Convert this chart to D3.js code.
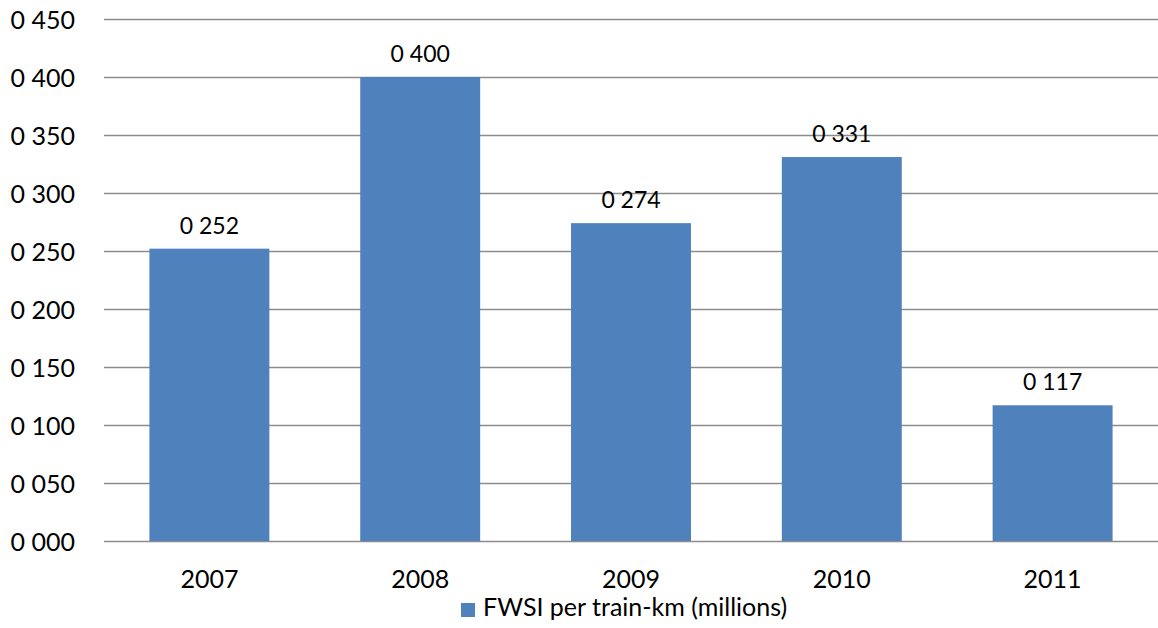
<!DOCTYPE html>
<html>
<head>
<meta charset="utf-8">
<script src="https://cdn.jsdelivr.net/npm/d3@7/dist/d3.min.js"></script>
<style>
  html, body { margin: 0; padding: 0; background: #fff; }
  svg { display: block; font-family: Lato, "Open Sans", sans-serif; }
</style>
</head>
<body>
<svg id="chart" width="1158" height="628"></svg>
<script>
// FWSI per train-km (millions), by year
const years = ["2007", "2008", "2009", "2010", "2011"];
const fwsi = [0.252, 0.400, 0.274, 0.331, 0.117];
const yTicks = [0, 0.05, 0.10, 0.15, 0.20, 0.25, 0.30, 0.35, 0.40, 0.45];
const seriesName = "FWSI per train-km (millions)";

const W = 1158, H = 628;
const margin = { top: 19, right: 0, bottom: 87, left: 104 };
const svg = d3.select("#chart");

// numbers shown with a space as the decimal separator, e.g. "0 252"
const fmt = v => d3.format(".3f")(v).replace(".", " ");

const x = d3.scaleBand()
  .domain(years)
  .range([margin.left, W - margin.right])
  .paddingInner(0.431)
  .paddingOuter(0.2155);

const y = d3.scaleLinear()
  .domain([0, 0.45])
  .range([H - margin.bottom, margin.top]);

// horizontal gridlines
svg.append("g")
  .selectAll("line")
  .data(yTicks)
  .join("line")
  .attr("x1", margin.left)
  .attr("x2", W - margin.right)
  .attr("y1", d => Math.round(y(d)) + 0.5)
  .attr("y2", d => Math.round(y(d)) + 0.5)
  .attr("stroke", "#8c8c8c")
  .attr("stroke-width", 1.3);

// y-axis labels
const yAxis = d3.axisLeft(y).tickValues(yTicks).tickFormat(fmt).tickSize(0).tickPadding(0);
const gy = svg.append("g").attr("transform", "translate(75,0)").call(yAxis);
gy.select(".domain").remove();
gy.selectAll("text")
  .attr("font-size", 25)
  .attr("font-family", "Lato, sans-serif")
  .attr("fill", "#000")
  .attr("dy", "0.36em");

// bars
svg.append("g")
  .selectAll("rect")
  .data(years.map((yr, i) => ({ yr, v: fwsi[i] })))
  .join("rect")
  .attr("x", d => x(d.yr))
  .attr("width", x.bandwidth())
  .attr("y", d => y(d.v))
  .attr("height", d => y(0) - y(d.v))
  .attr("fill", "#4f81bd");

// value labels above bars
svg.append("g")
  .selectAll("text")
  .data(years.map((yr, i) => ({ yr, v: fwsi[i] })))
  .join("text")
  .attr("x", d => x(d.yr) + x.bandwidth() / 2)
  .attr("y", d => y(d.v) - 15)
  .attr("text-anchor", "middle")
  .attr("font-size", 23)
  .attr("fill", "#000")
  .text(d => fmt(d.v));

// x-axis labels
const xAxis = d3.axisBottom(x).tickSize(0).tickPadding(0);
const gx = svg.append("g").attr("transform", `translate(0,${H - margin.bottom})`).call(xAxis);
gx.select(".domain").remove();
gx.selectAll("text")
  .attr("font-size", 25)
  .attr("font-family", "Lato, sans-serif")
  .attr("fill", "#000")
  .attr("y", 47)
  .attr("dy", 0);

// legend
const legend = svg.append("g").attr("transform", "translate(461,603)");
legend.append("rect").attr("width", 14).attr("height", 14).attr("fill", "#4f81bd");
legend.append("text")
  .attr("x", 22)
  .attr("y", 13)
  .attr("font-size", 25)
  .attr("fill", "#000")
  .text(seriesName);
</script>
</body>
</html>
